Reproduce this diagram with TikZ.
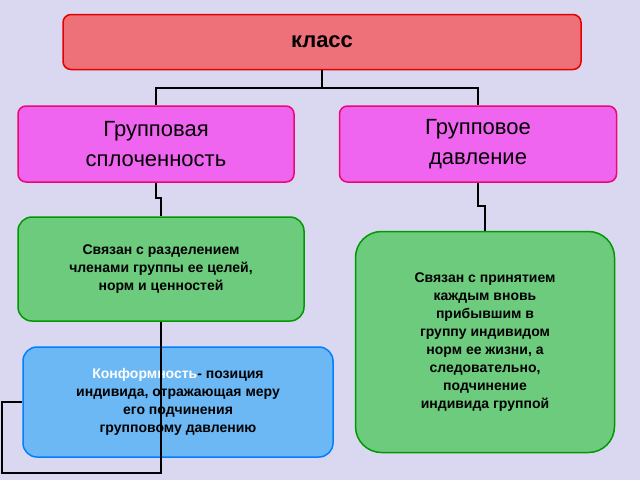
\documentclass[tikz,border=0pt]{standalone}
\usepackage{fontspec}
\setmainfont{Liberation Sans}
\usetikzlibrary{positioning}
\definecolor{bgcol}{HTML}{D9D8F0}
\definecolor{redfill}{HTML}{EE7078}
\definecolor{pinkfill}{HTML}{F065F0}
\definecolor{greenfill}{HTML}{6DCB7D}
\definecolor{bluefill}{HTML}{6BB8F5}
\begin{document}
\begin{tikzpicture}[
    x=1pt, y=-1pt,
    box/.style={rectangle, draw, line width=1.5pt, rounded corners=8pt, align=center, inner sep=0pt},
    line/.style={draw, black, line width=2pt}
    ]
    \fill[bgcol] (0,0) rectangle (640,480);
    \useasboundingbox (0,0) rectangle (640,480);

    \node[box, fill=redfill, draw=red!90!black, minimum width=518pt, minimum height=55pt, font=\bfseries\fontsize{22}{26}\selectfont] (klass) at (322,42) {класс};

    \node[box, fill=pinkfill, draw=magenta!80!red, minimum width=276pt, minimum height=76pt, font=\fontsize{22}{30}\selectfont] (splot) at (156,144) {Групповая\\сплоченность};
    \node[box, fill=pinkfill, draw=magenta!80!red, minimum width=277pt, minimum height=76pt, font=\fontsize{22}{30}\selectfont] (davl) at (478,144) {Групповое\\давление};

    \node[box, fill=greenfill, draw=green!60!black, rounded corners=14pt, minimum width=286pt, minimum height=104pt, font=\bfseries\fontsize{14}{18}\selectfont] (razd) at (161,269) {Связан с разделением\\членами группы ее целей,\\норм и ценностей};
    \node[box, fill=greenfill, draw=green!60!black, rounded corners=26pt, minimum width=259pt, minimum height=221pt, font=\bfseries\fontsize{14}{18}\selectfont] (prin) at (485,342) {Связан с принятием\\каждым вновь\\прибывшим в\\группу индивидом\\норм ее жизни, а\\следовательно,\\подчинение\\индивида группой};

    \node[box, fill=bluefill, draw=blue!50!cyan, rounded corners=14pt, minimum width=310pt, minimum height=110pt, font=\bfseries\fontsize{14}{18}\selectfont] (konf) at (178,402) {{\color{white}Конформность}- позиция\\индивида, отражающая меру\\его подчинения\\групповому давлению};

    % connectors
    \coordinate (top) at (322,88);
    \draw[line] (klass.south) -- (top) -| (splot.north);
    \draw[line] (top) -| (davl.north);
    \draw[line] (splot.south) -- ++(0,15) -| (razd.north);
    \draw[line] (davl.south) -- ++(0,23) -| (prin.north);
    \draw[line] (razd.south) -- (161,473) -- (2,473) -- (2,402) -- (konf.west);
\end{tikzpicture}
\end{document}
